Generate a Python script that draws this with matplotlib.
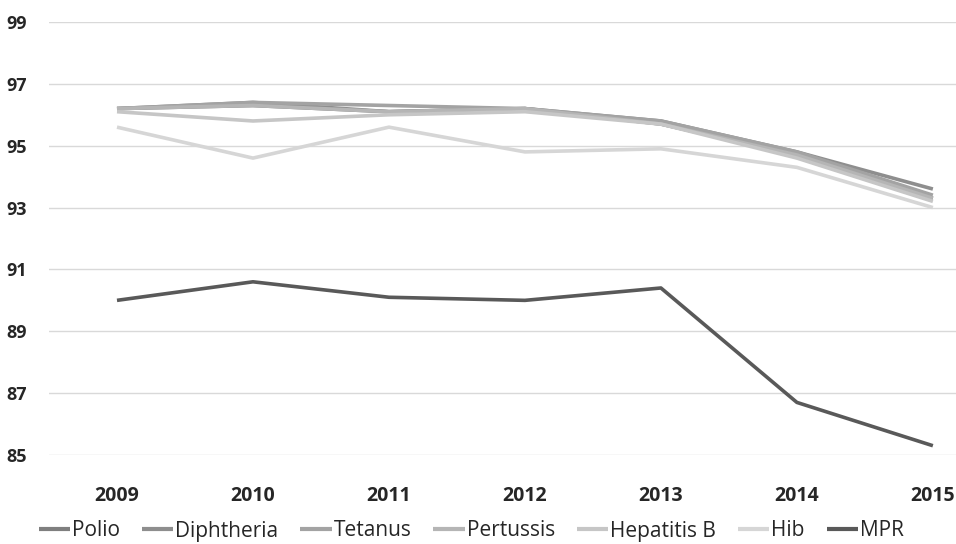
import matplotlib.pyplot as plt

years = ['2009', '2010', '2011', '2012', '2013', '2014', '2015']
polio = [96.2, 96.3, 96.1, 96.2, 95.7, 94.7, 93.3]
diphtheria = [96.2, 96.4, 96.1, 96.2, 95.8, 94.8, 93.6]
tetanus = [96.2, 96.4, 96.3, 96.2, 95.8, 94.8, 93.4]
pertussis = [96.2, 96.3, 96.1, 96.2, 95.7, 94.7, 93.3]
hepatitis_b = [96.1, 95.8, 96.0, 96.1, 95.7, 94.6, 93.2]
hib = [95.6, 94.6, 95.6, 94.8, 94.9, 94.3, 93.0]
mpr = [90.0, 90.6, 90.1, 90.0, 90.4, 86.7, 85.3]

series = [
    ('Polio', polio, '#7f7f7f'),
    ('Diphtheria', diphtheria, '#8e8e8e'),
    ('Tetanus', tetanus, '#a3a3a3'),
    ('Pertussis', pertussis, '#b5b5b5'),
    ('Hepatitis B', hepatitis_b, '#c6c6c6'),
    ('Hib', hib, '#d6d6d6'),
    ('MPR', mpr, '#595959'),
]

W, H = 956, 544
fig = plt.figure(figsize=(W / 100, H / 100), dpi=100)
ax = fig.add_axes([49 / W, 1 - 455 / H, 1 - 49 / W, (455 - 22) / H])

x = range(len(years))
for name, vals, color in series:
    ax.plot(x, vals, color=color, linewidth=2.6, label=name, solid_capstyle='butt')

ax.set_ylim(85, 99)
ax.set_yticks(range(85, 100, 2))
ax.set_xlim(-0.5, 6.17)
ax.set_xticks(list(x))
ax.set_xticklabels(years)
ax.grid(axis='y', color='#d9d9d9', linewidth=1)
ax.set_axisbelow(True)
for s in ax.spines.values():
    s.set_visible(False)
ax.tick_params(axis='both', length=0)
ax.tick_params(axis='y', pad=16, labelsize=13)
ax.tick_params(axis='x', pad=22, labelsize=14)
for lbl in ax.get_xticklabels() + ax.get_yticklabels():
    lbl.set_fontweight('bold')
    lbl.set_fontfamily('Open Sans')
    lbl.set_color('#262626')

leg = fig.legend(loc='center', bbox_to_anchor=(0.493, 1 - 531 / H), ncol=7, frameon=False,
                 prop={'family': 'Open Sans', 'size': 15}, handlelength=1.5,
                 handletextpad=0.1, columnspacing=1.05, borderpad=0.1)
for t in leg.get_texts():
    t.set_color('#262626')
for l in leg.get_lines():
    l.set_linewidth(3)

fig.savefig('out.png', dpi=100)
